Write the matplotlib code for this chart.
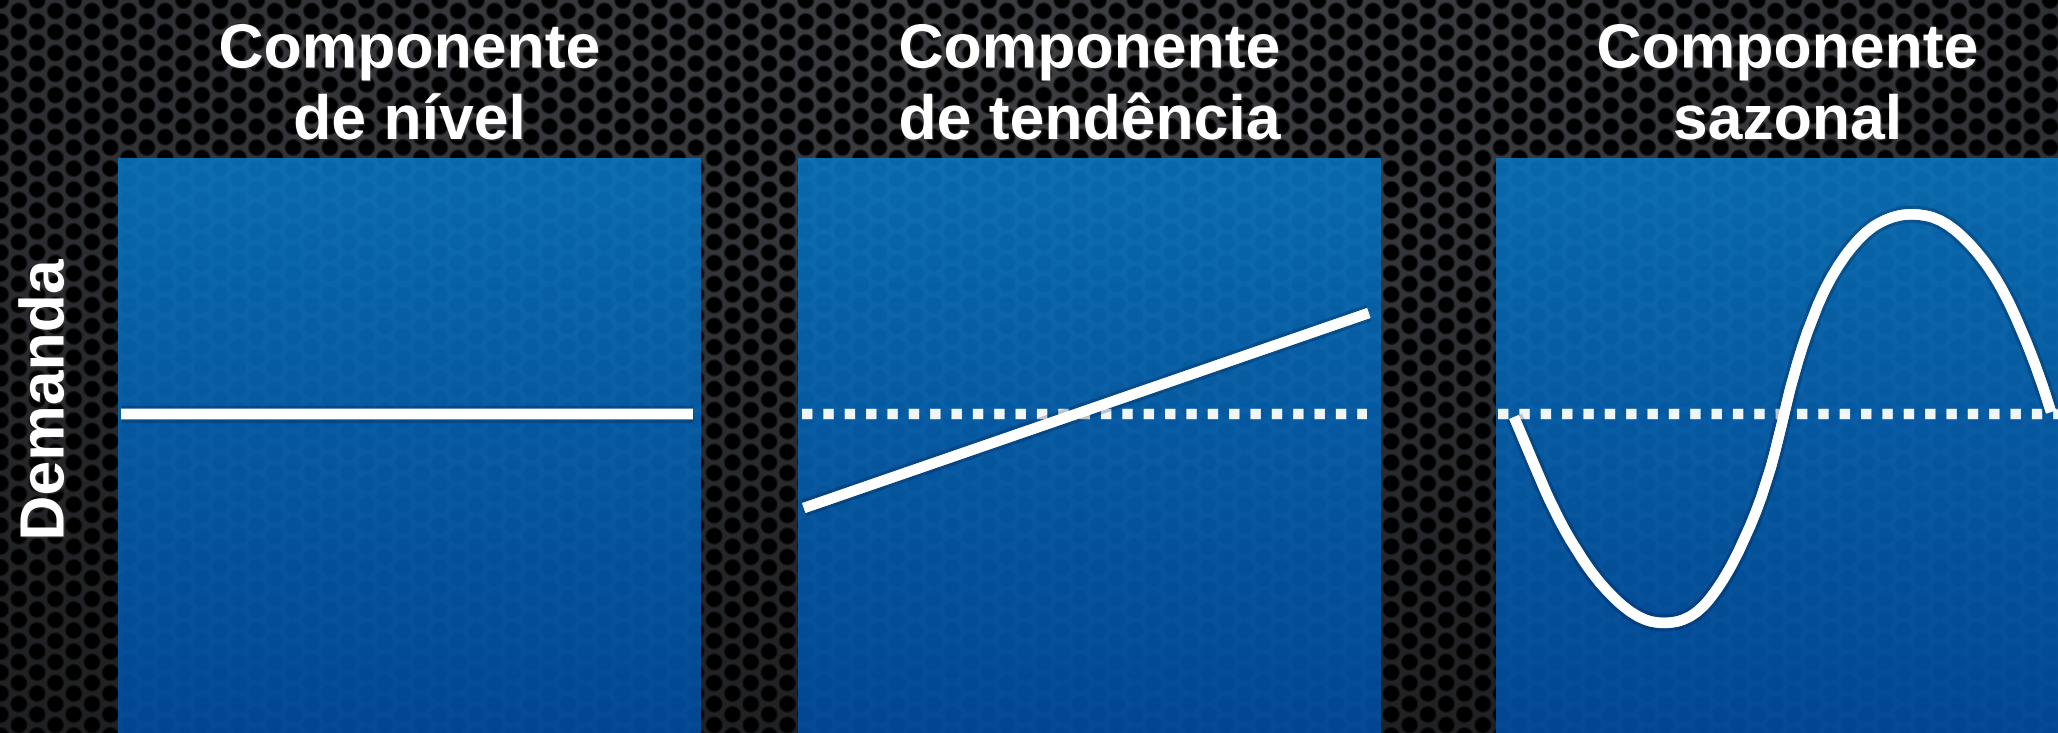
import numpy as np
import matplotlib
matplotlib.use("Agg")
import matplotlib.pyplot as plt
from matplotlib.path import Path
from matplotlib.patches import PathPatch
from matplotlib import patheffects as pe

W, H = 2058, 733

titulos = ["Componente\nde nível", "Componente\nde tendência", "Componente\nsazonal"]
rotulo_y = "Demanda"

# componente de nivel (constante)
nivel_x = [0.05, 9.86]
nivel_y = [0.0, 0.0]

# componente de tendencia (reta crescente)
tend_x = [0.10, 9.79]
tend_y = [-0.94, 1.01]

# componente sazonal (pontos lidos ao longo da curva)
saz_x = [0.31, 0.67, 0.99, 1.37, 1.82, 2.38, 2.88, 3.40, 3.84, 4.27, 4.65, 4.91,
         5.09, 5.42, 5.80, 6.29, 6.74, 7.19, 7.68, 8.20, 8.64, 9.02, 9.33, 9.52]
saz_y = [-0.03, -0.53, -0.96, -1.36, -1.73, -2.03, -2.11, -2.03, -1.73, -1.26, -0.69, -0.09,
         0.37, 0.97, 1.44, 1.81, 1.97, 2.01, 1.94, 1.67, 1.31, 0.84, 0.37, 0.02]

# linha de referencia pontilhada
base_y = 0.0
base_x_tend = [0.07, 9.76]
base_x_saz = [0.03, 10.0]

# posicao dos paineis em pixels (esquerda, topo)
paineis_px = [(118, 158), (798, 158), (1496, 158)]
larg_px = 583
xlim = (0, 10)
ylim = (-3.19, 2.56)

BRANCO = "#ffffff"
LW = 7.5
FONTE = 45


def chapa_perfurada(w, h):
    # fundo de metal perfurado, furos em grade hexagonal
    yy, xx = np.mgrid[0:h, 0:w].astype(float)
    px, py = 36.6, 21.0
    d = np.full((h, w), 1e9)
    for ox, oy in [(0.0, 0.0), (px / 2, py / 2)]:
        fx = ((xx - ox) % px) - px / 2
        fy = ((yy - oy) % py) - py / 2
        d = np.minimum(d, np.hypot(fx, fy))
    metal = np.clip((d - 6.8) / 2.5, 0, 1)
    luz = 0.5 + 0.5 * np.exp(-((yy - 40) / 450.0) ** 2) * np.exp(-((xx - 1100) / 1400.0) ** 2)
    base = np.array([60, 62, 66]) / 255.0
    img = metal[..., None] * base[None, None, :] * luz[..., None]
    return np.clip(img, 0, 1)


def gradiente_azul(h):
    t = np.linspace(0, 1, h)[:, None, None]
    topo = np.array([0.04, 0.46, 0.75])
    fundo = np.array([0.01, 0.31, 0.64])
    cor = topo * (1 - t) + fundo * t
    rgba = np.concatenate([cor, np.full((h, 1, 1), 0.9)], axis=2)
    return rgba


def caminho_suave(x, y):
    pts = np.column_stack([x, y])
    verts = [pts[0]]
    codes = [Path.MOVETO]
    for i in range(1, len(pts) - 1):
        verts += [pts[i], (pts[i] + pts[i + 1]) / 2]
        codes += [Path.CURVE3, Path.CURVE3]
    verts.append(pts[-1])
    codes.append(Path.LINETO)
    return Path(verts, codes)


sombra = [pe.withStroke(linewidth=LW + 5, foreground=(0.0, 0.05, 0.2, 0.22)), pe.Normal()]
sombra_txt = [pe.withSimplePatchShadow(offset=(1, -1), alpha=0.4)]

fig = plt.figure(figsize=(W / 100, H / 100), dpi=100)
fig.patch.set_facecolor("#000000")

fundo = fig.add_axes([0, 0, 1, 1])
fundo.imshow(chapa_perfurada(W, H), aspect="auto", interpolation="bilinear")
fundo.set_axis_off()

eixos = []
for (esq, topo), titulo in zip(paineis_px, titulos):
    alt = H - topo
    ax = fig.add_axes([esq / W, 0, larg_px / W, alt / H])
    ax.set_xlim(*xlim)
    ax.set_ylim(*ylim)
    ax.imshow(gradiente_azul(alt), extent=[xlim[0], xlim[1], ylim[0], ylim[1]],
              aspect="auto", zorder=0)
    ax.set_axis_off()
    eixos.append(ax)

    fig.text((esq + larg_px / 2) / W, 1 - 139 / H, titulo, ha="center", va="baseline",
             multialignment="center", color=BRANCO, fontsize=FONTE, fontweight="bold",
             family="Liberation Sans", linespacing=1.27, path_effects=sombra_txt)

fig.text(47 / W, 1 - 400 / H, rotulo_y, rotation=90, ha="center", va="center",
         color=BRANCO, fontsize=FONTE, fontweight="bold", family="Liberation Sans",
         path_effects=sombra_txt)

ax1, ax2, ax3 = eixos

ax1.plot(nivel_x, nivel_y, color=BRANCO, lw=LW, solid_capstyle="butt",
         path_effects=sombra, zorder=3)

pont = (0, (1.0, 1.05))
ax2.plot(base_x_tend, [base_y, base_y], color=BRANCO, lw=LW, ls=pont,
         dash_capstyle="butt", alpha=0.95, zorder=2)
ax2.plot(tend_x, tend_y, color=BRANCO, lw=LW, solid_capstyle="butt",
         path_effects=sombra, zorder=3)

ax3.plot(base_x_saz, [base_y, base_y], color=BRANCO, lw=LW, ls=pont,
         dash_capstyle="butt", alpha=0.95, zorder=2, clip_on=False)
curva = PathPatch(caminho_suave(saz_x, saz_y), fill=False, edgecolor=BRANCO, lw=LW,
                  capstyle="butt", joinstyle="round", zorder=3, path_effects=sombra)
ax3.add_patch(curva)

fig.savefig("out.png", dpi=100, facecolor=fig.get_facecolor())
